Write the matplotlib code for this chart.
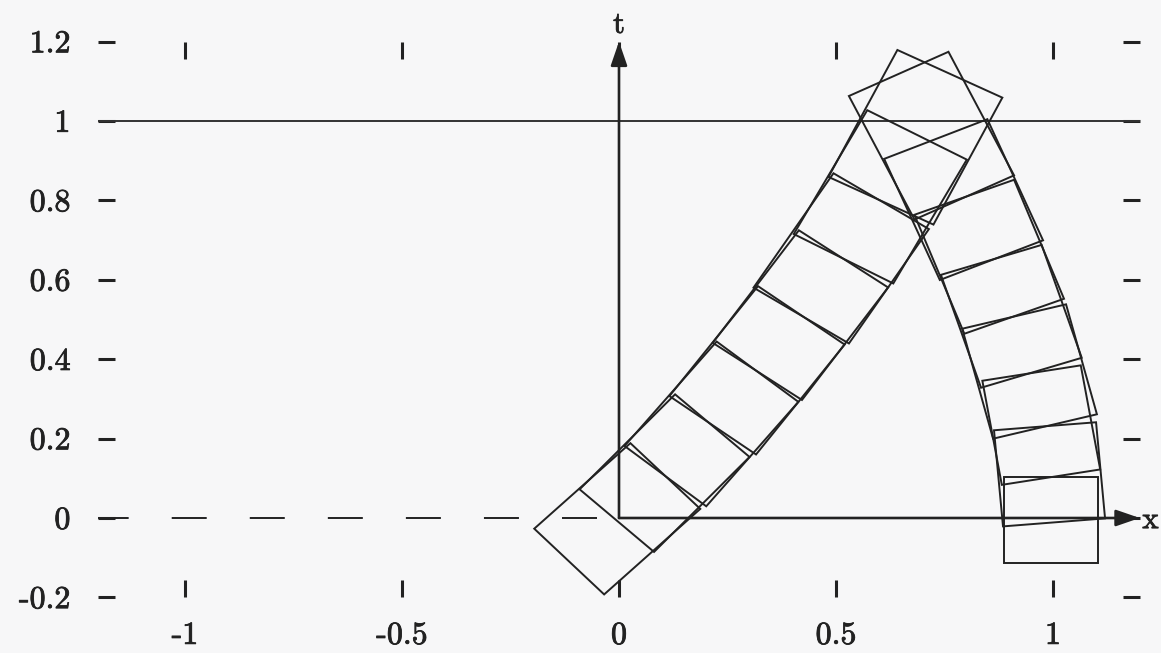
import numpy as np
import matplotlib
matplotlib.use('Agg')
import matplotlib.pyplot as plt
import matplotlib.patheffects as pe
from matplotlib.patches import Polygon

plt.rcParams['font.family'] = ['cmr10', 'DejaVu Serif']
plt.rcParams['axes.unicode_minus'] = False
plt.rcParams['lines.scale_dashes'] = False

INK = '#222222'
PAPER = '#f7f7f8'

# Tick positions and labels
x_ticks = [-1, -0.5, 0, 0.5, 1]
x_tick_labels = ['-1', '-0.5', '0', '0.5', '1']
y_ticks = [-0.2, 0, 0.2, 0.4, 0.6, 0.8, 1, 1.2]
y_tick_labels = ['-0.2', '0', '0.2', '0.4', '0.6', '0.8', '1', '1.2']

# Boxes carried along the worldline starting at x = 0
left_cx = [-0.004, 0.105, 0.213, 0.318, 0.418, 0.512, 0.602, 0.683]
left_cy = [-0.002, 0.113, 0.237, 0.372, 0.511, 0.654, 0.809, 0.959]
left_w = [0.231, 0.233, 0.242, 0.248, 0.251, 0.261, 0.261, 0.270]
left_h = [0.309, 0.325, 0.338, 0.344, 0.346, 0.342, 0.355, 0.357]
left_dir = [44.2, 47.4, 51.1, 53.6, 55.0, 57.4, 61.5, 63.6]   # degrees

# Boxes carried along the worldline starting at x = 1
right_cx = [0.995, 0.992, 0.973, 0.946, 0.904, 0.853, 0.794, 0.720]
right_cy = [-0.005, 0.110, 0.234, 0.369, 0.508, 0.658, 0.802, 0.963]
right_w = [0.217, 0.236, 0.230, 0.247, 0.244, 0.246, 0.258, 0.255]
right_h = [0.217, 0.243, 0.266, 0.286, 0.299, 0.321, 0.331, 0.346]
right_dir = [90.0, 94.9, 99.7, 104.4, 108.0, 111.0, 112.8, 115.9]


def box_corners(cx, cy, w, h, direction):
    """Corners of a box whose long side points along `direction` (degrees)."""
    a = np.deg2rad(direction)
    u = np.array([np.cos(a), np.sin(a)]) * h / 2
    v = np.array([np.sin(a), -np.cos(a)]) * w / 2
    c = np.array([cx, cy])
    return np.array([c - u - v, c - u + v, c + u + v, c + u - v])


def draw_chain(ax, cxs, cys, ws, hs, dirs):
    for cx, cy, w, h, d in zip(cxs, cys, ws, hs, dirs):
        ax.add_patch(Polygon(box_corners(cx, cy, w, h, d), closed=True,
                             fill=False, edgecolor=INK, linewidth=1.4,
                             joinstyle='miter', zorder=3))


fig = plt.figure(figsize=(11.61, 6.53), dpi=100, facecolor=PAPER)
ax = fig.add_axes([98.2 / 1161, 55.6 / 653, 1041.6 / 1161, 555.8 / 653])
ax.set_facecolor(PAPER)
ax.set_xlim(-1.2, 1.2)
ax.set_ylim(-0.2, 1.2)

for s in ax.spines.values():
    s.set_visible(False)

ax.set_xticks(x_ticks)
ax.set_xticklabels(x_tick_labels)
ax.set_yticks(y_ticks)
ax.set_yticklabels(y_tick_labels)
ax.tick_params(axis='both', direction='in', length=12.5, width=2.2,
               color=INK, labelcolor=INK, labelsize=23,
               top=True, right=True)
ax.tick_params(axis='x', pad=18)
ax.tick_params(axis='y', pad=20)

# slightly heavier strokes on the labels
heavy = [pe.withStroke(linewidth=0.6, foreground=INK)]
for lbl in ax.get_xticklabels() + ax.get_yticklabels():
    lbl.set_path_effects(heavy)

# t = 1 line and the dashed negative x half-axis
ax.axhline(1, color='#333333', linewidth=1.4, zorder=2)
ax.plot([-0.05, -1.25], [0, 0], color=INK, linewidth=1.4,
        dashes=(25.2, 31), zorder=2)

# coordinate axes with arrow heads
arrow = dict(arrowstyle='-|>,head_length=1.45,head_width=0.5',
             color=INK, linewidth=1.9, shrinkA=0, shrinkB=0,
             mutation_scale=10)
ax.annotate('', xy=(0, 1.2), xytext=(0, 0), arrowprops=arrow,
            annotation_clip=False, zorder=4)
ax.annotate('', xy=(1.2, 0), xytext=(0, 0), arrowprops=arrow,
            annotation_clip=False, zorder=4)
ax.text(0.0, 1.207, 't', ha='center', va='bottom', fontsize=22, color=INK,
        path_effects=heavy)
ax.text(1.206, -0.006, 'x', ha='left', va='center', fontsize=22, color=INK,
        path_effects=heavy)

draw_chain(ax, left_cx, left_cy, left_w, left_h, left_dir)
draw_chain(ax, right_cx, right_cy, right_w, right_h, right_dir)

fig.savefig('out.png', dpi=100, facecolor=PAPER)
